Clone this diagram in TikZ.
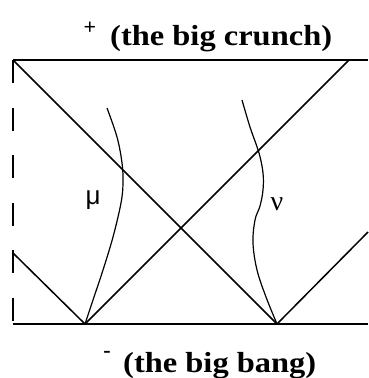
\documentclass[tikz,border=0pt]{standalone}
\usepackage{fontspec}
\setmainfont{Liberation Serif}
\newfontfamily\greeksans{Liberation Sans}
\newfontfamily\titlefont[FakeStretch=1.12]{Liberation Serif}
\tikzset{
  edge/.style={line width=1.5pt, line cap=butt},
  worldline/.style={line width=1.2pt},
  title/.style={font=\fontsize{29}{32}\selectfont\titlefont\bfseries, inner sep=0pt},
  sign/.style={font=\fontsize{22}{24}\selectfont\bfseries, inner sep=0pt},
  greek/.style={font=\fontsize{28}{30}\selectfont, inner sep=0pt},
  greekS/.style={font=\fontsize{26}{28}\selectfont\greeksans, inner sep=0pt}
}
\begin{document}
\begin{tikzpicture}[x=1pt,y=-1pt]
\useasboundingbox (0,0) rectangle (368,378);
% corners and vertices
\coordinate (TL) at (13,60);
\coordinate (TR) at (368,60);
\coordinate (BL) at (13,324);
\coordinate (BR) at (368,324);
\coordinate (P) at (85,324);
\coordinate (Q) at (277,324);
\coordinate (L) at (13,253);
\coordinate (T) at (349,60);
\coordinate (R) at (368,232);
% boundaries
\draw[edge] (TL) -- (TR);
\draw[edge] (BL) -- (BR);
\draw[edge, dash pattern=on 23pt off 24.6pt] (TL) -- (BL);
% null rays
\draw[edge] (TL) -- (Q);
\draw[edge] (L) -- (P) -- (T);
\draw[edge] (Q) -- (R);
% world lines
\draw[worldline] plot[smooth, tension=0.6] coordinates {(85,324) (93,300) (103,270) (113,237) (121,203) (123,183) (122,163) (117,137) (107,108)};
\draw[worldline] plot[smooth, tension=0.6] coordinates {(277,324) (266,297) (257,270) (253,243) (255,220) (260,206) (263,190) (263,173) (259,153) (250,127) (242,100)};
% labels
\node[greekS] (mu) at (93,200) {μ};
\node[greek] (nu) at (277,204) {ν};
\node[title, anchor=base west] (crunch) at (110,45) {(the big crunch)};
\node[sign] (plus) at (90,28) {+};
\node[title, anchor=base west] (bang) at (123,372) {(the big bang)};
\node[sign] (minus) at (107,354) {-};
\end{tikzpicture}
\end{document}
